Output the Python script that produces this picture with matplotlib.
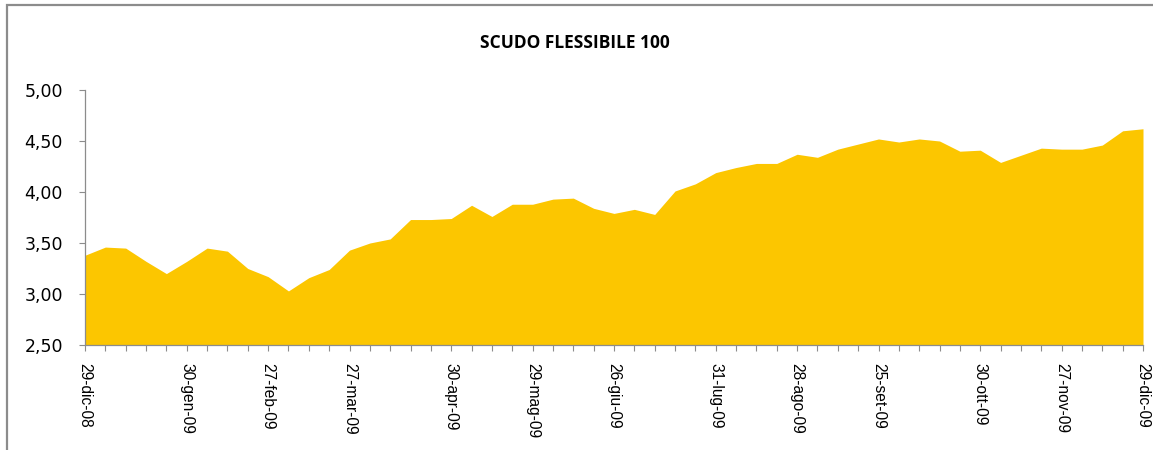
import matplotlib
matplotlib.use("Agg")
import matplotlib.pyplot as plt
from matplotlib.patches import Rectangle
from matplotlib.ticker import FuncFormatter, MultipleLocator

# weekly NAV of the fund, 53 points (29-dic-08 .. 29-dic-09)
values = [3.38, 3.46, 3.45, 3.32, 3.20, 3.32, 3.45, 3.42, 3.25, 3.17,
          3.03, 3.16, 3.24, 3.43, 3.50, 3.54, 3.73, 3.73, 3.74, 3.87,
          3.76, 3.88, 3.88, 3.93, 3.94, 3.84, 3.79, 3.83, 3.78, 4.01,
          4.08, 4.19, 4.24, 4.28, 4.28, 4.37, 4.34, 4.42, 4.47, 4.52,
          4.49, 4.52, 4.50, 4.40, 4.41, 4.29, 4.36, 4.43, 4.42, 4.42,
          4.46, 4.60, 4.62]

# which weeks carry a date label
label_pos = [0, 5, 9, 13, 18, 22, 26, 31, 35, 39, 44, 48, 52]
label_txt = ["29-dic-08", "30-gen-09", "27-feb-09", "27-mar-09", "30-apr-09",
             "29-mag-09", "26-giu-09", "31-lug-09", "28-ago-09", "25-set-09",
             "30-ott-09", "27-nov-09", "29-dic-09"]

title = "SCUDO FLESSIBILE 100"

W, H = 1153, 450
fig = plt.figure(figsize=(W / 100, H / 100), dpi=100)

# outer chart border (cut off on the right and bottom in the original)
fig.patches.append(Rectangle((7 / W, -0.1), 1.2, 1.1 - 5.5 / H,
                             transform=fig.transFigure, fill=False,
                             edgecolor="#8c8c8c", linewidth=1.6))

ax = fig.add_axes([85 / W, 105 / H, (1143 - 85) / W, 255 / H])

x = list(range(len(values)))
ax.fill_between(x, 2.5, values, color="#fcc600", linewidth=0)

ax.set_xlim(0, len(values) - 1)
ax.set_ylim(2.5, 5.0)

ax.yaxis.set_major_locator(MultipleLocator(0.5))
ax.yaxis.set_major_formatter(FuncFormatter(lambda v, p: f"{v:.2f}".replace(".", ",")))

labels = [""] * len(values)
for i, t in zip(label_pos, label_txt):
    labels[i] = t
ax.set_xticks(x)
ax.set_xticklabels(labels, rotation=-90, fontsize=11.2,
                   family=["Liberation Sans Narrow", "Liberation Sans"])

for s in ["top", "right"]:
    ax.spines[s].set_visible(False)
for s in ["left", "bottom"]:
    ax.spines[s].set_color("#8c8c8c")
    ax.spines[s].set_linewidth(0.9)

ax.tick_params(axis="x", length=4, width=0.8, color="#8c8c8c", pad=9)
ax.tick_params(axis="y", length=4, width=0.8, color="#8c8c8c", pad=12,
               labelsize=12.5)
for lab in ax.get_yticklabels():
    lab.set_family("DejaVu Sans")

fig.text(575 / W, 1 - 43 / H, title, ha="center", va="center",
         fontsize=12.5, fontweight="bold", family=["Open Sans", "DejaVu Sans"])

fig.savefig("out.png", dpi=100)
